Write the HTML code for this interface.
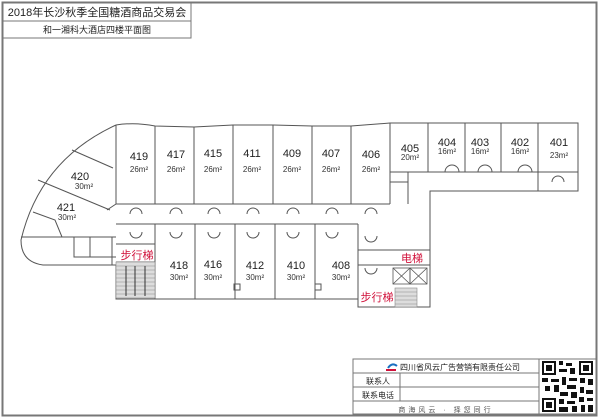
<!DOCTYPE html>
<html><head><meta charset="utf-8"><style>
html,body{margin:0;padding:0;background:#fff;}
svg{display:block;font-family:"Liberation Sans","Noto Sans CJK SC",sans-serif;}
</style></head><body>
<svg width="600" height="419" viewBox="0 0 600 419" xmlns="http://www.w3.org/2000/svg">
<rect x="0" y="0" width="600" height="419" fill="#fff"/>
<rect x="2.5" y="2.5" width="594" height="413" fill="none" stroke="#777" stroke-width="2"/>
<!-- title -->
<rect x="3" y="3" width="188" height="35" fill="#fff" stroke="#777"/>
<line x1="3" y1="21" x2="191" y2="21" stroke="#777"/>
<text x="97" y="16" font-size="11" text-anchor="middle" fill="#222">2018年长沙秋季全国糖酒商品交易会</text>
<text x="97" y="33" font-size="9" text-anchor="middle" fill="#222">和一湘科大酒店四楼平面图</text>

<g fill="none" stroke="#555" stroke-width="1">
<path d="M116,125 Q135,122 155,126 L194,127 L233,125 L273,125 L312,126 L351,126 L390,123 L428,123 L578,123 L578,191 L430,191 L430,307 L358,307 L358,299 L116,299 L116,265 L43,265 Q21,262 21,240 Q40,160 116,125"/>
<path d="M116,125 V204 M155,126 V204 M194,127 V204 M233,125 V204 M273,125 V204 M312,126 V204 M351,126 V204 M390,123 V204 M428,123 V172 M465,123 V172 M501,123 V172 M538,123 V172"/>
<path d="M116,204 H390 M390,172 H578 M390,182 H408 M408,172 V204"/>
<path d="M116,224 H358 M358,224 V250 H430 M358,265 H430"/>
<path d="M155,224 V299 M195,224 V299 M235,224 V299 M275,224 V299 M315,224 V299 M358,250 V307"/>
<path d="M116,244 H155 M116,262 H155"/>
<!-- left wing partitions -->
<path d="M72,150 L113,168 M38,180 L110,210 M116,204 L107,210 M33,212 L55,220 L62,237 M21,237 H116 M74,237 V257 H116 M90,237 V257 M112,237 V265"/>
<path d="M130,214 a6,6 0 0 1 12,0 M170,214 a6,6 0 0 1 12,0 M208,214 a6,6 0 0 1 12,0 M247,214 a6,6 0 0 1 12,0 M287,214 a6,6 0 0 1 12,0 M326,214 a6,6 0 0 1 12,0 M365,214 a6,6 0 0 1 12,0"/>
<path d="M170,232 a6,6 0 0 0 12,0 M208,232 a6,6 0 0 0 12,0 M247,232 a6,6 0 0 0 12,0 M287,232 a6,6 0 0 0 12,0 M326,232 a6,6 0 0 0 12,0 M130,232 a6,6 0 0 0 12,0 M365,236 a6,6 0 0 0 12,0 M365,268 a6,6 0 0 0 12,0"/>
<path d="M445,172 a7,7 0 0 1 14,0 M478,172 a7,7 0 0 1 14,0 M518,172 a7,7 0 0 1 14,0 M552,182 a6,6 0 0 1 12,0"/>
<rect x="234" y="284" width="6" height="6"/><rect x="315" y="284" width="6" height="6"/>
<path d="M538,172 V191 M558,172 H578"/>
</g>
<g stroke="#888" stroke-width="0.6">
<rect x="116" y="262" width="39" height="36" fill="#ddd"/>
<path d="M116,266H155M116,270H155M116,274H155M116,278H155M116,282H155M116,286H155M116,290H155M116,294H155"/>
<rect x="395" y="288" width="22" height="19" fill="#ddd"/>
<path d="M395,292H417M395,296H417M395,300H417M395,304H417"/>
</g>
<path d="M126,266V296M135,266V296M145,266V296" stroke="#333" stroke-width="1"/>
<g fill="none" stroke="#555" stroke-width="0.8">
<rect x="393" y="268" width="17" height="16"/><rect x="410" y="268" width="17" height="16"/>
<path d="M393,268L410,284M410,268L393,284M410,268L427,284M427,268L410,284"/>
</g>
<g font-size="11" text-anchor="middle" fill="#222">
<text x="139" y="160">419</text><text x="176" y="158">417</text><text x="213" y="157">415</text><text x="252" y="157">411</text><text x="292" y="157">409</text><text x="331" y="157">407</text><text x="371" y="158">406</text><text x="410" y="152">405</text><text x="447" y="146">404</text><text x="480" y="146">403</text><text x="520" y="146">402</text><text x="559" y="146">401</text>
<text x="80" y="180">420</text><text x="66" y="211">421</text>
<text x="179" y="269">418</text><text x="213" y="268">416</text><text x="255" y="269">412</text><text x="296" y="269">410</text><text x="341" y="269">408</text>
</g>
<g font-size="8" text-anchor="middle" fill="#333">
<text x="139" y="172">26m²</text><text x="176" y="172">26m²</text><text x="213" y="172">26m²</text><text x="252" y="172">26m²</text><text x="292" y="172">26m²</text><text x="331" y="172">26m²</text><text x="371" y="172">26m²</text><text x="410" y="160">20m²</text><text x="447" y="154">16m²</text><text x="480" y="154">16m²</text><text x="520" y="154">16m²</text><text x="559" y="158">23m²</text>
<text x="84" y="189">30m²</text><text x="67" y="220">30m²</text>
<text x="179" y="280">30m²</text><text x="213" y="280">30m²</text><text x="255" y="280">30m²</text><text x="296" y="280">30m²</text><text x="341" y="280">30m²</text>
</g>
<g font-size="11" fill="#d0103a" text-anchor="middle">
<text x="137" y="259">步行梯</text><text x="412" y="262">电梯</text><text x="377" y="301">步行梯</text>
</g>
<g fill="none" stroke="#777">
<rect x="353" y="359" width="243" height="55"/>
<path d="M353,373H539M353,387H539M353,401H539M400,373V401M539,359V414"/>
</g>
<path d="M388,368 q4,-6 9,-2" stroke="#1a6fc0" stroke-width="2" fill="none"/>
<path d="M386,370 h10" stroke="#d0103a" stroke-width="2"/>
<g font-size="8" fill="#222">
<text x="400" y="370">四川省风云广告营销有限责任公司</text>
<text x="366" y="384">联系人</text>
<text x="362" y="398">联系电话</text>
<text x="446" y="412" font-size="7" letter-spacing="3" fill="#555" text-anchor="middle">商海风云 · 择您同行</text>
</g>
<g fill="#111">
<rect x="541" y="360" width="53" height="53" fill="#fff"/>
<rect x="542" y="361" width="14" height="14"/><rect x="544" y="363" width="10" height="10" fill="#fff"/><rect x="546" y="365" width="6" height="6"/>
<rect x="579" y="361" width="14" height="14"/><rect x="581" y="363" width="10" height="10" fill="#fff"/><rect x="583" y="365" width="6" height="6"/>
<rect x="542" y="398" width="14" height="14"/><rect x="544" y="400" width="10" height="10" fill="#fff"/><rect x="546" y="402" width="6" height="6"/>
<path d="M559,361h4v4h-4zM566,363h6v3h-6zM559,369h8v3h-8zM570,368h5v6h-5zM542,378h6v4h-6zM551,379h8v3h-8zM562,377h4v8h-4zM569,378h8v3h-8zM580,378h5v5h-5zM588,379h5v6h-5zM545,386h5v5h-5zM554,385h5v7h-5zM567,385h9v4h-9zM580,387h4v6h-4zM560,392h8v4h-8zM571,392h6v6h-6zM586,390h7v4h-7zM559,399h5v5h-5zM567,401h8v3h-8zM579,397h5v5h-5zM587,398h6v3h-6zM559,407h9v5h-9zM572,406h5v6h-5zM581,405h4v7h-4zM588,405h5v7h-5z"/>
</g>
</svg>
</body></html>
